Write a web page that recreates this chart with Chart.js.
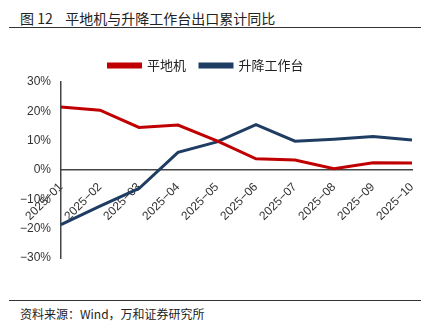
<!DOCTYPE html>
<html>
<head>
<meta charset="utf-8">
<script src="https://cdn.jsdelivr.net/npm/chart.js@4"></script>
<style>
  body { margin: 0; width: 432px; height: 328px; background: #fff; position: relative; overflow: hidden; }
  .title { position: absolute; left: 20px; top: 8px; font: 14px "Noto Sans CJK SC", sans-serif; color: #222; white-space: pre; }
  .rule { position: absolute; left: 9px; width: 412px; height: 1px; background: #333; }
  .source { position: absolute; left: 20px; top: 305px; font: 12px "Noto Sans CJK SC", sans-serif; color: #222; }
  #wrap { position: absolute; left: 0; top: 30px; width: 432px; height: 266px; }
</style>
</head>
<body>
<div class="title">图 12    平地机与升降工作台出口累计同比</div>
<div class="rule" style="top:27px"></div>
<div id="wrap"><canvas id="chart"></canvas></div>
<div class="rule" style="top:300px"></div>
<div class="source">资料来源：Wind，万和证券研究所</div>
<script>
// months on the x axis
const months = ['2025−01', '2025−02', '2025−03', '2025−04', '2025−05', '2025−06', '2025−07', '2025−08', '2025−09', '2025−10'];
// cumulative yoy export growth, %
const graderYoy = [21.5, 20.4, 14.5, 15.3, 9.9, 3.8, 3.4, 0.4, 2.5, 2.4];
const liftYoy = [-18.6, -12.3, -6.3, 6.0, 9.6, 15.5, 9.8, 10.5, 11.4, 10.2];

const tickFont = { family: 'Liberation Sans, Arial, sans-serif', size: 12 };

const canvas = document.getElementById('chart');
new Chart(canvas, {
  type: 'line',
  data: {
    labels: months,
    datasets: [
      { label: '平地机', data: graderYoy, borderColor: '#C00000', backgroundColor: '#C00000', borderWidth: 3, pointRadius: 0, tension: 0 },
      { label: '升降工作台', data: liftYoy, borderColor: '#1F3D63', backgroundColor: '#1F3D63', borderWidth: 3, pointRadius: 0, tension: 0 },
    ],
  },
  options: {
    responsive: true,
    maintainAspectRatio: false,
    animation: false,
    layout: { padding: { top: 15, bottom: 38, left: 0, right: 20 } },
    plugins: {
      legend: {
        labels: {
          boxWidth: 32,
          boxHeight: 3,
          padding: 14,
          color: '#222',
          font: { family: 'Noto Sans CJK SC', size: 13 },
        },
      },
      tooltip: { enabled: false },
    },
    scales: {
      x: {
        position: { y: 0 },
        grid: { display: false },
        border: { color: '#444', width: 1.5 },
        ticks: { minRotation: 45, maxRotation: 45, color: '#333', font: tickFont, padding: 2 },
      },
      y: {
        min: -30,
        max: 30,
        afterFit: (scale) => { scale.width = 61; },
        grid: { drawOnChartArea: false, drawTicks: false },
        border: { color: '#444', width: 1.5 },
        ticks: {
          stepSize: 10,
          padding: 10,
          color: '#333',
          font: tickFont,
          callback: (v) => (v < 0 ? '−' + Math.abs(v) : v) + '%',
        },
      },
    },
  },
});
</script>
</body>
</html>
